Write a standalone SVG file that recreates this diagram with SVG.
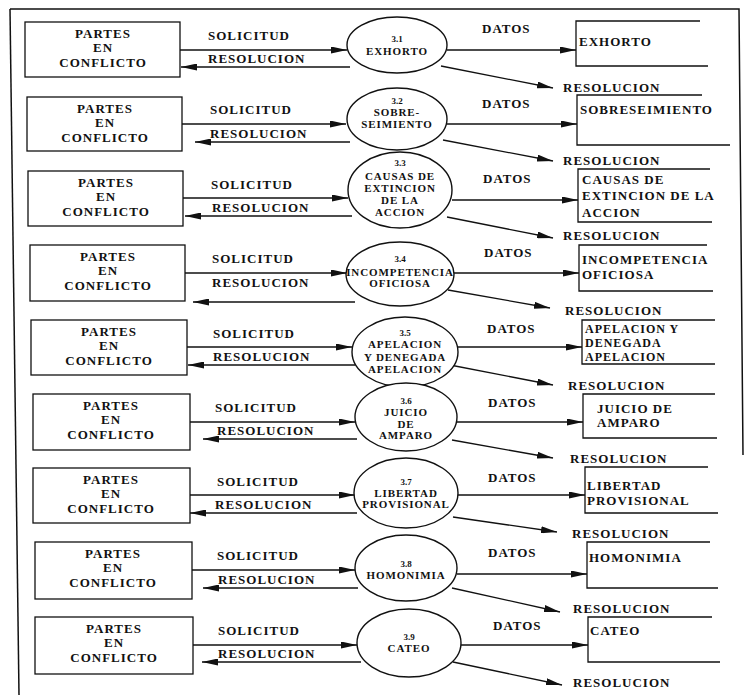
<svg xmlns="http://www.w3.org/2000/svg" width="747" height="695" viewBox="0 0 747 695">
<style>
text{font-family:"Liberation Serif","Times New Roman",serif;font-weight:bold;fill:#111}
.lb{font-size:13px;letter-spacing:1px}
.sm{font-size:12px;letter-spacing:1px}
.bx{font-size:13px;letter-spacing:1px;text-anchor:middle}
.el{font-size:11px;letter-spacing:0.9px;text-anchor:middle}
.nm{font-size:9px;text-anchor:middle}
.box{fill:#fff;stroke:#111;stroke-width:1.3}
.pr{fill:#fff;stroke:#111;stroke-width:1.4}
.st{fill:none;stroke:#111;stroke-width:1.3}
.ar{fill:none;stroke:#111;stroke-width:1.3;marker-end:url(#ah)}
.fr{fill:none;stroke:#111;stroke-width:1.5}
</style>
<defs>
<marker id="ah" viewBox="0 0 16 7" markerWidth="16" markerHeight="7" refX="16" refY="3.5" orient="auto" markerUnits="userSpaceOnUse">
<path d="M0,0 L16,3.5 L0,7 Z" fill="#111"/>
</marker>
</defs>
<rect width="747" height="695" fill="#fff"/>
<g id="frame"><path class="fr" d="M10,9 L739,9 L743,455"/><path class="fr" d="M10,9 L19,695"/></g>

<g id="connectors">
<!-- row 1 -->
<line class="ar" x1="180" y1="50" x2="347" y2="50"/>
<line class="ar" x1="350" y1="67" x2="181" y2="67"/>
<line class="ar" x1="447" y1="50" x2="576" y2="50"/>
<line class="ar" x1="441" y1="66" x2="553" y2="88"/>
<text class="lb" x="208" y="40">SOLICITUD</text>
<text class="lb" x="208" y="63">RESOLUCION</text>
<text class="lb" x="482" y="33">DATOS</text>
<text class="lb" x="563" y="92">RESOLUCION</text>
<!-- row 2 -->
<line class="ar" x1="182" y1="124" x2="346" y2="124"/>
<line class="ar" x1="350" y1="142" x2="195" y2="142"/>
<line class="ar" x1="447" y1="124" x2="577" y2="124"/>
<line class="ar" x1="443" y1="140" x2="553" y2="161"/>
<text class="lb" x="210" y="114">SOLICITUD</text>
<text class="lb" x="210" y="138">RESOLUCION</text>
<text class="lb" x="482" y="108">DATOS</text>
<text class="lb" x="563" y="165">RESOLUCION</text>
<!-- row 3 -->
<line class="ar" x1="183" y1="198" x2="348" y2="198"/>
<line class="ar" x1="352" y1="216" x2="185" y2="216"/>
<line class="ar" x1="452" y1="200" x2="578" y2="200"/>
<line class="ar" x1="447" y1="217" x2="553" y2="238"/>
<text class="lb" x="211" y="189">SOLICITUD</text>
<text class="lb" x="212" y="212">RESOLUCION</text>
<text class="lb" x="483" y="183">DATOS</text>
<text class="lb" x="563" y="240">RESOLUCION</text>
<!-- row 4 -->
<line class="ar" x1="185" y1="273" x2="347" y2="273"/>
<line class="ar" x1="355" y1="302" x2="193" y2="302"/>
<line class="ar" x1="454" y1="273" x2="579" y2="273"/>
<line class="ar" x1="448" y1="290" x2="550" y2="308"/>
<text class="lb" x="212" y="263">SOLICITUD</text>
<text class="lb" x="212" y="287">RESOLUCION</text>
<text class="lb" x="484" y="257">DATOS</text>
<text class="lb" x="565" y="315">RESOLUCION</text>
<!-- row 5 -->
<line class="ar" x1="187" y1="347" x2="352" y2="347"/>
<line class="ar" x1="355" y1="365" x2="188" y2="365"/>
<line class="ar" x1="458" y1="347" x2="582" y2="347"/>
<line class="ar" x1="450" y1="365" x2="553" y2="385"/>
<text class="lb" x="213" y="338">SOLICITUD</text>
<text class="lb" x="213" y="361">RESOLUCION</text>
<text class="lb" x="487" y="333">DATOS</text>
<text class="lb" x="568" y="390">RESOLUCION</text>
<!-- row 6 -->
<line class="ar" x1="190" y1="422" x2="355" y2="422"/>
<line class="ar" x1="357" y1="439" x2="203" y2="439"/>
<line class="ar" x1="457" y1="422" x2="583" y2="422"/>
<line class="ar" x1="452" y1="440" x2="553" y2="458"/>
<text class="lb" x="215" y="412">SOLICITUD</text>
<text class="lb" x="217" y="435">RESOLUCION</text>
<text class="lb" x="488" y="407">DATOS</text>
<text class="lb" x="570" y="463">RESOLUCION</text>
<!-- row 7 -->
<line class="ar" x1="190" y1="495" x2="355" y2="495"/>
<line class="ar" x1="357" y1="513" x2="190" y2="513"/>
<line class="ar" x1="458" y1="495" x2="585" y2="495"/>
<line class="ar" x1="453" y1="517" x2="557" y2="532"/>
<text class="lb" x="217" y="486">SOLICITUD</text>
<text class="lb" x="215" y="509">RESOLUCION</text>
<text class="lb" x="488" y="482">DATOS</text>
<text class="lb" x="572" y="538">RESOLUCION</text>
<!-- row 8 -->
<line class="ar" x1="192" y1="570" x2="355" y2="570"/>
<line class="ar" x1="358" y1="588" x2="203" y2="588"/>
<line class="ar" x1="457" y1="574" x2="587" y2="574"/>
<line class="ar" x1="452" y1="588" x2="560" y2="612"/>
<text class="lb" x="217" y="560">SOLICITUD</text>
<text class="lb" x="218" y="584">RESOLUCION</text>
<text class="lb" x="488" y="557">DATOS</text>
<text class="lb" x="573" y="613">RESOLUCION</text>
<!-- row 9 -->
<line class="ar" x1="193" y1="645" x2="357" y2="645"/>
<line class="ar" x1="361" y1="662" x2="202" y2="662"/>
<line class="ar" x1="461" y1="645" x2="588" y2="645"/>
<line class="ar" x1="453" y1="662" x2="562" y2="685"/>
<text class="lb" x="218" y="635">SOLICITUD</text>
<text class="lb" x="218" y="658">RESOLUCION</text>
<text class="lb" x="493" y="630">DATOS</text>
<text class="lb" x="573" y="687">RESOLUCION</text>
</g>

<!-- external entities -->
<g id="ent1"><rect class="box" x="25" y="22" width="155" height="55"/><text class="bx" x="103" y="38">PARTES</text><text class="bx" x="103" y="52">EN</text><text class="bx" x="103" y="67">CONFLICTO</text></g>
<g id="ent2"><rect class="box" x="27" y="97" width="155" height="54"/><text class="bx" x="105" y="113">PARTES</text><text class="bx" x="105" y="127">EN</text><text class="bx" x="105" y="142">CONFLICTO</text></g>
<g id="ent3"><rect class="box" x="28" y="171" width="155" height="55"/><text class="bx" x="106" y="187">PARTES</text><text class="bx" x="106" y="201">EN</text><text class="bx" x="106" y="216">CONFLICTO</text></g>
<g id="ent4"><rect class="box" x="30" y="245" width="155" height="56"/><text class="bx" x="108" y="261">PARTES</text><text class="bx" x="108" y="275">EN</text><text class="bx" x="108" y="290">CONFLICTO</text></g>
<g id="ent5"><rect class="box" x="31" y="320" width="156" height="55"/><text class="bx" x="109" y="336">PARTES</text><text class="bx" x="109" y="350">EN</text><text class="bx" x="109" y="365">CONFLICTO</text></g>
<g id="ent6"><rect class="box" x="33" y="394" width="157" height="56"/><text class="bx" x="111" y="410">PARTES</text><text class="bx" x="111" y="424">EN</text><text class="bx" x="111" y="439">CONFLICTO</text></g>
<g id="ent7"><rect class="box" x="33" y="468" width="157" height="55"/><text class="bx" x="111" y="484">PARTES</text><text class="bx" x="111" y="498">EN</text><text class="bx" x="111" y="513">CONFLICTO</text></g>
<g id="ent8"><rect class="box" x="35" y="542" width="157" height="57"/><text class="bx" x="113" y="558">PARTES</text><text class="bx" x="113" y="572">EN</text><text class="bx" x="113" y="587">CONFLICTO</text></g>
<g id="ent9"><rect class="box" x="35" y="617" width="158" height="57"/><text class="bx" x="114" y="633">PARTES</text><text class="bx" x="114" y="647">EN</text><text class="bx" x="114" y="662">CONFLICTO</text></g>

<!-- processes -->
<g id="p31"><ellipse class="pr" cx="397" cy="45" rx="50" ry="28"/><text class="nm" x="397" y="42">3.1</text><text class="el" x="397" y="55">EXHORTO</text></g>
<g id="p32"><ellipse class="pr" cx="397" cy="119" rx="50" ry="31"/><text class="nm" x="397" y="104">3.2</text><text class="el" x="397" y="116">SOBRE-</text><text class="el" x="397" y="128">SEIMIENTO</text></g>
<g id="p33"><ellipse class="pr" cx="400" cy="190" rx="52" ry="38"/><text class="nm" x="400" y="166">3.3</text><text class="el" x="400" y="180">CAUSAS DE</text><text class="el" x="400" y="192">EXTINCION</text><text class="el" x="400" y="204">DE LA</text><text class="el" x="400" y="216">ACCION</text></g>
<g id="p34"><ellipse class="pr" cx="400" cy="274" rx="54" ry="32"/><text class="nm" x="400" y="262">3.4</text><text class="el" x="400" y="276">INCOMPETENCIA</text><text class="el" x="400" y="287">OFICIOSA</text></g>
<g id="p35"><ellipse class="pr" cx="405" cy="352" rx="53" ry="35"/><text class="nm" x="405" y="336">3.5</text><text class="el" x="405" y="348">APELACION</text><text class="el" x="405" y="361">Y DENEGADA</text><text class="el" x="405" y="373">APELACION</text></g>
<g id="p36"><ellipse class="pr" cx="406" cy="417" rx="51" ry="34"/><text class="nm" x="406" y="404">3.6</text><text class="el" x="406" y="416">JUICIO</text><text class="el" x="406" y="428">DE</text><text class="el" x="406" y="439">AMPARO</text></g>
<g id="p37"><ellipse class="pr" cx="406" cy="493" rx="52" ry="35"/><text class="nm" x="406" y="485">3.7</text><text class="el" x="406" y="497">LIBERTAD</text><text class="el" x="406" y="508">PROVISIONAL</text></g>
<g id="p38"><ellipse class="pr" cx="406" cy="568" rx="51" ry="33"/><text class="nm" x="406" y="567">3.8</text><text class="el" x="406" y="579">HOMONIMIA</text></g>
<g id="p39"><ellipse class="pr" cx="409" cy="643" rx="52" ry="34"/><text class="nm" x="409" y="640">3.9</text><text class="el" x="409" y="652">CATEO</text></g>

<!-- data stores -->
<g id="s1"><path class="st" d="M700,21 H576 V66 H708"/><text class="lb" x="579" y="46">EXHORTO</text></g>
<g id="s2"><path class="st" d="M702,95 H577 V145 H730"/><text class="lb" x="580" y="114">SOBRESEIMIENTO</text></g>
<g id="s3"><path class="st" d="M710,169 H578 V222 H712"/><text class="lb" x="582" y="184">CAUSAS DE</text><text class="lb" x="582" y="200">EXTINCION DE LA</text><text class="lb" x="582" y="217">ACCION</text></g>
<g id="s4"><path class="st" d="M707,245 H579 V291 H713"/><text class="lb" x="582" y="264">INCOMPETENCIA</text><text class="lb" x="582" y="279">OFICIOSA</text></g>
<g id="s5"><path class="st" d="M715,320 H582 V364 H715"/><text class="sm" x="585" y="333">APELACION Y</text><text class="sm" x="585" y="347">DENEGADA</text><text class="sm" x="585" y="361">APELACION</text></g>
<g id="s6"><path class="st" d="M715,394 H583 V438 H717"/><text class="lb" x="597" y="413">JUICIO DE</text><text class="lb" x="597" y="427">AMPARO</text></g>
<g id="s7"><path class="st" d="M708,467 H585 V513 H718"/><text class="lb" x="587" y="490">LIBERTAD</text><text class="lb" x="587" y="505">PROVISIONAL</text></g>
<g id="s8"><path class="st" d="M710,542 H587 V588 H718"/><text class="lb" x="589" y="562">HOMONIMIA</text></g>
<g id="s9"><path class="st" d="M712,617 H588 V662 H720"/><text class="lb" x="590" y="635">CATEO</text></g>
</svg>
